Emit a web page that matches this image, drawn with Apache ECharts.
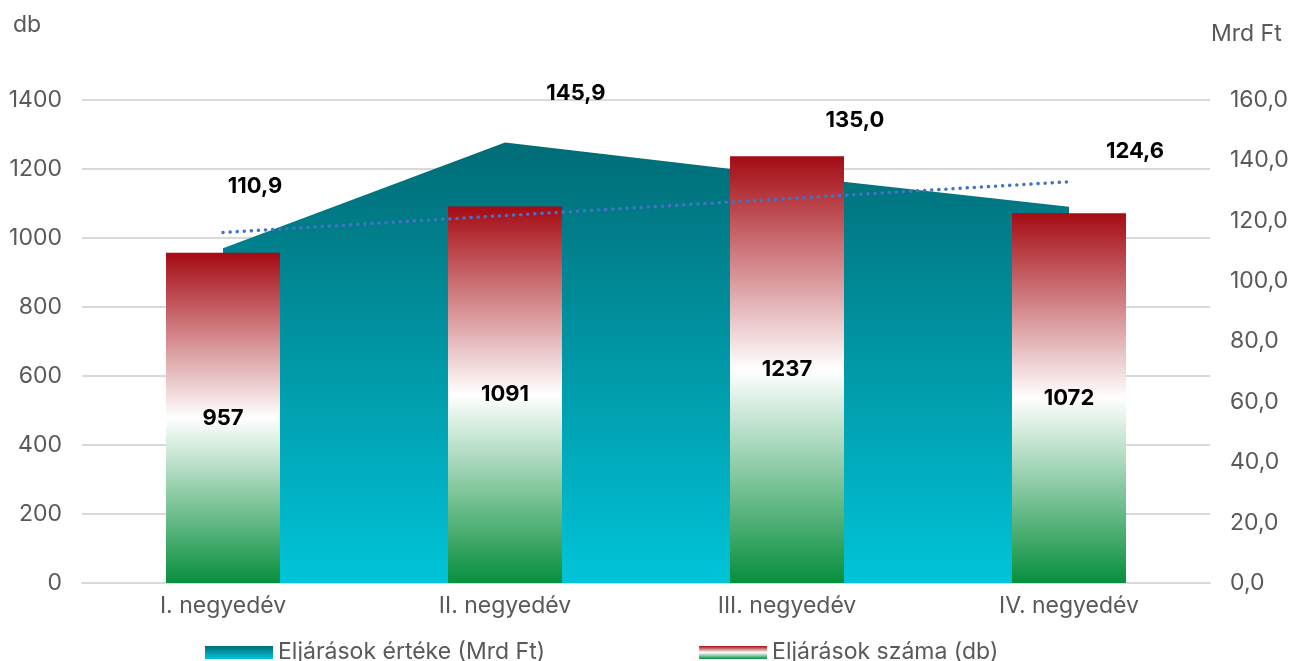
<!DOCTYPE html>
<html>
<head>
<meta charset="utf-8">
<script src="https://cdn.jsdelivr.net/npm/echarts@6/dist/echarts.min.js"></script>
<style>
html,body{margin:0;padding:0;background:#fff;}
#chart{width:1294px;height:661px;}
</style>
</head>
<body>
<div id="chart"></div>
<script>
const categories = ['I. negyedév', 'II. negyedév', 'III. negyedév', 'IV. negyedév'];
const countValues = [957, 1091, 1237, 1072];          // Eljárások száma (db)
const amountValues = [110.9, 145.9, 135.0, 124.6];    // Eljárások értéke (Mrd Ft)
const trendValues = [1016, 1065, 1114, 1163];         // dotted trend line (db)
const leftTicks = [0, 200, 400, 600, 800, 1000, 1200, 1400];
const rightTicks = [0, 20, 40, 60, 80, 100, 120, 140, 160];

const FONT = 'Inter, Roboto, sans-serif';
const GREY = '#595959';
const labelOffsets = [[32, -45], [71, -33], [68, -39], [66, -39]];

function barGrad() {
  return new echarts.graphic.LinearGradient(0, 0, 0, 1, [
    {offset: 0, color: '#a50b13'},
    {offset: 0.5, color: '#ffffff'},
    {offset: 1, color: '#078f3d'}
  ]);
}
function areaGrad() {
  return new echarts.graphic.LinearGradient(0, 0, 0, 1, [
    {offset: 0, color: '#006c76'},
    {offset: 1, color: '#00c4d8'}
  ]);
}

const chart = echarts.init(document.getElementById('chart'));
chart.setOption({
  animation: false,
  grid: {left: 82, right: 84, top: 100, bottom: 78, containLabel: false},
  legend: {
    bottom: -8,
    left: 200,
    itemWidth: 68,
    itemHeight: 13,
    itemGap: 154,
    textStyle: {fontFamily: FONT, fontSize: 23, color: GREY},
    data: [
      {name: 'Eljárások értéke (Mrd Ft)', icon: 'rect', itemStyle: {color: areaGrad(), opacity: 1}},
      {name: 'Eljárások száma (db)', icon: 'rect', itemStyle: {color: barGrad(), opacity: 1}}
    ]
  },
  xAxis: {
    type: 'category',
    data: categories,
    boundaryGap: true,
    axisLine: {show: true, lineStyle: {color: '#d9d9d9', width: 2}},
    axisTick: {show: false},
    axisLabel: {fontFamily: FONT, fontSize: 23, color: GREY, margin: 12}
  },
  yAxis: [
    {
      type: 'value', min: leftTicks[0], max: leftTicks[leftTicks.length - 1], interval: 200,
      axisLine: {show: false}, axisTick: {show: false},
      splitLine: {lineStyle: {color: '#d9d9d9', width: 2}},
      axisLabel: {fontFamily: FONT, fontSize: 23, color: GREY, margin: 20, formatter: v => String(v)}
    },
    {
      type: 'value', min: rightTicks[0], max: rightTicks[rightTicks.length - 1], interval: 20,
      axisLine: {show: false}, axisTick: {show: false},
      splitLine: {show: false},
      axisLabel: {fontFamily: FONT, fontSize: 23, color: GREY, margin: 20,
        formatter: v => v.toFixed(1).replace('.', ',')}
    }
  ],
  graphic: [
    {type: 'text', left: 13, top: 14, style: {text: 'db', fontFamily: FONT, fontSize: 23, fill: GREY}},
    {type: 'text', left: 1211, top: 23, style: {text: 'Mrd Ft', fontFamily: FONT, fontSize: 23, fill: GREY}}
  ],
  series: [
    {
      name: 'Eljárások értéke (Mrd Ft)',
      type: 'line',
      yAxisIndex: 1,
      data: amountValues.map((v, i) => ({
        value: v,
        label: {offset: labelOffsets[i]}
      })),
      symbol: 'circle',
      symbolSize: 1,
      showSymbol: true,
      itemStyle: {color: 'rgba(0,0,0,0)', borderWidth: 0},
      lineStyle: {width: 0, color: 'rgba(0,0,0,0)'},
      areaStyle: {color: areaGrad(), opacity: 1},
      label: {
        show: true, position: 'top', distance: 5,
        fontFamily: FONT, fontSize: 22, fontWeight: 'bold', color: '#000',
        formatter: p => p.value.toFixed(1).replace('.', ',')
      },
      z: 1
    },
    {
      name: 'Eljárások száma (db)',
      type: 'bar',
      yAxisIndex: 0,
      data: countValues,
      barWidth: 114,
      itemStyle: {color: barGrad()},
      label: {
        show: true, position: 'inside',
        fontFamily: FONT, fontSize: 22, fontWeight: 'bold', color: '#000'
      },
      z: 2
    },
    {
      name: 'Trend',
      type: 'line',
      yAxisIndex: 0,
      data: trendValues,
      symbol: 'none',
      lineStyle: {color: '#4472c4', width: 3.5, type: [0.1, 7], cap: 'round'},
      z: 3
    }
  ]
});
</script>
</body>
</html>
